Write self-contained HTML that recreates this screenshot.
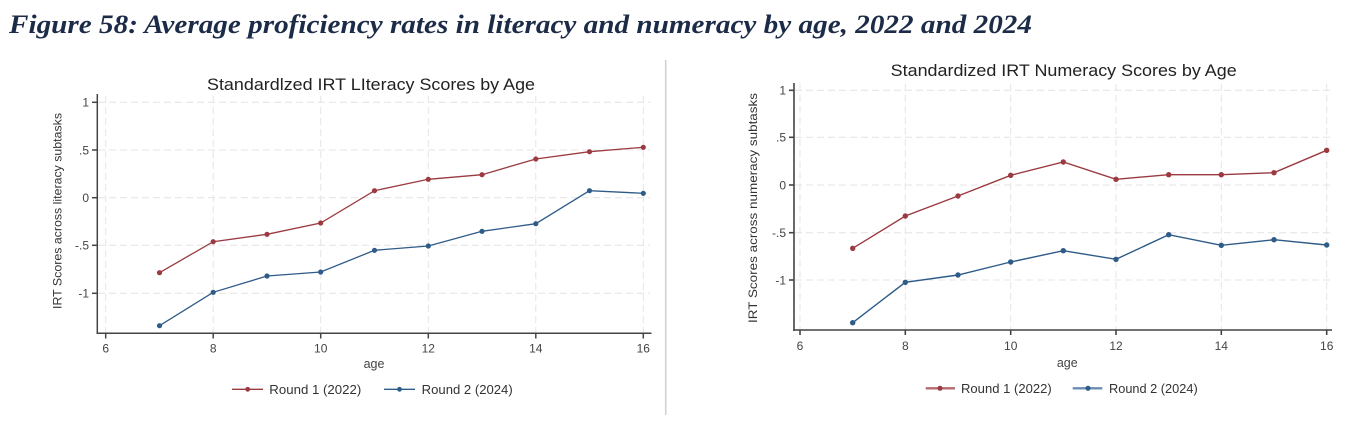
<!DOCTYPE html>
<html><head><meta charset="utf-8"><style>
html,body{margin:0;padding:0;background:#fff;}
svg{display:block;}
text{font-family:"Liberation Sans",Arial,sans-serif;}
</style></head><body>
<svg width="1346" height="422" viewBox="0 0 1346 422" xmlns="http://www.w3.org/2000/svg">
<rect width="1346" height="422" fill="#fff"/>
<text x="9" y="33" style="font-family:'Liberation Serif',serif;font-weight:bold;font-style:italic;" font-size="26" fill="#1c2b47" textLength="1023" lengthAdjust="spacingAndGlyphs">Figure 58: Average proficiency rates in literacy and numeracy by age, 2022 and 2024</text>
<line x1="665.7" y1="60" x2="665.7" y2="415" stroke="#d0d0d0" stroke-width="1.5"/>

<!-- LEFT CHART -->
<g>
<text x="207" y="90" font-size="17" fill="#222" textLength="328" lengthAdjust="spacingAndGlyphs">Standardlzed IRT LIteracy Scores by Age</text>
<g stroke="#e4e4e4" stroke-width="1" stroke-dasharray="7 4" fill="none">
<line x1="98" y1="102.3" x2="650" y2="102.3"/>
<line x1="98" y1="150" x2="650" y2="150"/>
<line x1="98" y1="197.7" x2="650" y2="197.7"/>
<line x1="98" y1="245.3" x2="650" y2="245.3"/>
<line x1="98" y1="293.3" x2="650" y2="293.3"/>
<line x1="105.7" y1="96" x2="105.7" y2="333"/>
<line x1="213.2" y1="96" x2="213.2" y2="333"/>
<line x1="320.7" y1="96" x2="320.7" y2="333"/>
<line x1="428.3" y1="96" x2="428.3" y2="333"/>
<line x1="535.8" y1="96" x2="535.8" y2="333"/>
<line x1="643.3" y1="96" x2="643.3" y2="333"/>
</g>
<g stroke="#444" stroke-width="1.5" fill="none">
<line x1="97.3" y1="94" x2="97.3" y2="334"/>
<line x1="96.5" y1="333.3" x2="651.5" y2="333.3"/>
<line x1="92" y1="102.3" x2="97.3" y2="102.3"/>
<line x1="92" y1="150" x2="97.3" y2="150"/>
<line x1="92" y1="197.7" x2="97.3" y2="197.7"/>
<line x1="92" y1="245.3" x2="97.3" y2="245.3"/>
<line x1="92" y1="293.3" x2="97.3" y2="293.3"/>
<line x1="105.7" y1="333.3" x2="105.7" y2="338.5"/>
<line x1="213.2" y1="333.3" x2="213.2" y2="338.5"/>
<line x1="320.7" y1="333.3" x2="320.7" y2="338.5"/>
<line x1="428.3" y1="333.3" x2="428.3" y2="338.5"/>
<line x1="535.8" y1="333.3" x2="535.8" y2="338.5"/>
<line x1="643.3" y1="333.3" x2="643.3" y2="338.5"/>
</g>
<g font-size="12" fill="#444" text-anchor="end">
<text x="89" y="106.6">1</text>
<text x="89" y="154.3">.5</text>
<text x="89" y="202">0</text>
<text x="89" y="249.6">-.5</text>
<text x="89" y="297.6">-1</text>
</g>
<g font-size="12" fill="#444" text-anchor="middle">
<text x="105.7" y="352.6">6</text>
<text x="213.2" y="352.6">8</text>
<text x="320.7" y="352.6">10</text>
<text x="428.3" y="352.6">12</text>
<text x="535.8" y="352.6">14</text>
<text x="643.3" y="352.6">16</text>
<text x="374" y="368" font-size="12.5">age</text>
</g>
<text transform="translate(61.5,211) rotate(-90)" font-size="12" fill="#333" text-anchor="middle" textLength="196" lengthAdjust="spacingAndGlyphs">IRT Scores across literacy subtasks</text>
<polyline fill="none" stroke="#9b3a40" stroke-width="1.3" points="159.5,272.7 213.2,241.7 267,234.3 320.7,223 374.5,190.7 428.3,179.3 482,174.7 535.8,159 589.5,151.7 643.3,147.3"/>
<g fill="#9b3a40">
<circle cx="159.5" cy="272.7" r="2.6"/><circle cx="213.2" cy="241.7" r="2.6"/><circle cx="267" cy="234.3" r="2.6"/><circle cx="320.7" cy="223" r="2.6"/><circle cx="374.5" cy="190.7" r="2.6"/><circle cx="428.3" cy="179.3" r="2.6"/><circle cx="482" cy="174.7" r="2.6"/><circle cx="535.8" cy="159" r="2.6"/><circle cx="589.5" cy="151.7" r="2.6"/><circle cx="643.3" cy="147.3" r="2.6"/>
</g>
<polyline fill="none" stroke="#2f5b88" stroke-width="1.3" points="159.5,325.7 213.2,292.3 267,276 320.7,272 374.5,250.3 428.3,246 482,231.3 535.8,223.7 589.5,190.7 643.3,193.3"/>
<g fill="#2f5b88">
<circle cx="159.5" cy="325.7" r="2.6"/><circle cx="213.2" cy="292.3" r="2.6"/><circle cx="267" cy="276" r="2.6"/><circle cx="320.7" cy="272" r="2.6"/><circle cx="374.5" cy="250.3" r="2.6"/><circle cx="428.3" cy="246" r="2.6"/><circle cx="482" cy="231.3" r="2.6"/><circle cx="535.8" cy="223.7" r="2.6"/><circle cx="589.5" cy="190.7" r="2.6"/><circle cx="643.3" cy="193.3" r="2.6"/>
</g>
<line x1="232" y1="389.3" x2="263" y2="389.3" stroke="#9b3a40" stroke-width="1.3"/>
<circle cx="247.7" cy="389.3" r="2.4" fill="#9b3a40"/>
<text x="269.3" y="394" font-size="13" fill="#333" textLength="92" lengthAdjust="spacingAndGlyphs">Round 1 (2022)</text>
<line x1="384" y1="389.3" x2="415" y2="389.3" stroke="#2f5b88" stroke-width="1.3"/>
<circle cx="399.5" cy="389.3" r="2.4" fill="#2f5b88"/>
<text x="421.7" y="394" font-size="13" fill="#333" textLength="91" lengthAdjust="spacingAndGlyphs">Round 2 (2024)</text>
</g>

<!-- RIGHT CHART -->
<g>
<text x="890.7" y="76" font-size="17" fill="#222" textLength="346" lengthAdjust="spacingAndGlyphs">Standardized IRT Numeracy Scores by Age</text>
<g stroke="#e4e4e4" stroke-width="1" stroke-dasharray="7 4" fill="none">
<line x1="795" y1="90.3" x2="1331" y2="90.3"/>
<line x1="795" y1="137.3" x2="1331" y2="137.3"/>
<line x1="795" y1="185" x2="1331" y2="185"/>
<line x1="795" y1="232.7" x2="1331" y2="232.7"/>
<line x1="795" y1="280" x2="1331" y2="280"/>
<line x1="800" y1="84" x2="800" y2="330"/>
<line x1="905.3" y1="84" x2="905.3" y2="330"/>
<line x1="1010.7" y1="84" x2="1010.7" y2="330"/>
<line x1="1116" y1="84" x2="1116" y2="330"/>
<line x1="1221.3" y1="84" x2="1221.3" y2="330"/>
<line x1="1326.7" y1="84" x2="1326.7" y2="330"/>
</g>
<g stroke="#444" stroke-width="1.6" fill="none">
<line x1="794" y1="83" x2="794" y2="331"/>
<line x1="793.2" y1="330" x2="1332" y2="330"/>
<line x1="789" y1="90.3" x2="794" y2="90.3"/>
<line x1="789" y1="137.3" x2="794" y2="137.3"/>
<line x1="789" y1="185" x2="794" y2="185"/>
<line x1="789" y1="232.7" x2="794" y2="232.7"/>
<line x1="789" y1="280" x2="794" y2="280"/>
<line x1="800" y1="330" x2="800" y2="335"/>
<line x1="905.3" y1="330" x2="905.3" y2="335"/>
<line x1="1010.7" y1="330" x2="1010.7" y2="335"/>
<line x1="1116" y1="330" x2="1116" y2="335"/>
<line x1="1221.3" y1="330" x2="1221.3" y2="335"/>
<line x1="1326.7" y1="330" x2="1326.7" y2="335"/>
</g>
<g font-size="12" fill="#444" text-anchor="end">
<text x="786" y="94.6">1</text>
<text x="786" y="141.6">.5</text>
<text x="786" y="189.3">0</text>
<text x="786" y="237">-.5</text>
<text x="786" y="284.3">-1</text>
</g>
<g font-size="12" fill="#444" text-anchor="middle">
<text x="800" y="350">6</text>
<text x="905.3" y="350">8</text>
<text x="1010.7" y="350">10</text>
<text x="1116" y="350">12</text>
<text x="1221.3" y="350">14</text>
<text x="1326.7" y="350">16</text>
<text x="1067.3" y="367" font-size="12.5">age</text>
</g>
<text transform="translate(757,208) rotate(-90)" font-size="12" fill="#333" text-anchor="middle" textLength="230" lengthAdjust="spacingAndGlyphs">IRT Scores across numeracy subtasks</text>
<polyline fill="none" stroke="#9b3a40" stroke-width="1.4" points="852.7,248.3 905.3,216 958,196 1010.7,175.3 1063.3,162 1116,179.3 1168.7,174.7 1221.3,174.7 1274,172.7 1326.7,150.3"/>
<g fill="#9b3a40">
<circle cx="852.7" cy="248.3" r="2.7"/><circle cx="905.3" cy="216" r="2.7"/><circle cx="958" cy="196" r="2.7"/><circle cx="1010.7" cy="175.3" r="2.7"/><circle cx="1063.3" cy="162" r="2.7"/><circle cx="1116" cy="179.3" r="2.7"/><circle cx="1168.7" cy="174.7" r="2.7"/><circle cx="1221.3" cy="174.7" r="2.7"/><circle cx="1274" cy="172.7" r="2.7"/><circle cx="1326.7" cy="150.3" r="2.7"/>
</g>
<polyline fill="none" stroke="#2f5b88" stroke-width="1.4" points="852.7,322.7 905.3,282.3 958,275 1010.7,262 1063.3,250.7 1116,259.3 1168.7,234.7 1221.3,245.3 1274,239.7 1326.7,245"/>
<g fill="#2f5b88">
<circle cx="852.7" cy="322.7" r="2.7"/><circle cx="905.3" cy="282.3" r="2.7"/><circle cx="958" cy="275" r="2.7"/><circle cx="1010.7" cy="262" r="2.7"/><circle cx="1063.3" cy="250.7" r="2.7"/><circle cx="1116" cy="259.3" r="2.7"/><circle cx="1168.7" cy="234.7" r="2.7"/><circle cx="1221.3" cy="245.3" r="2.7"/><circle cx="1274" cy="239.7" r="2.7"/><circle cx="1326.7" cy="245" r="2.7"/>
</g>
<line x1="925.7" y1="388.3" x2="955" y2="388.3" stroke="#b56a6f" stroke-width="2.4"/>
<circle cx="940" cy="388.3" r="2.5" fill="#9b3a40"/>
<text x="961" y="393" font-size="13" fill="#333" textLength="90.7" lengthAdjust="spacingAndGlyphs">Round 1 (2022)</text>
<line x1="1072.7" y1="388.3" x2="1102.3" y2="388.3" stroke="#6a8cb0" stroke-width="2.4"/>
<circle cx="1088" cy="388.3" r="2.5" fill="#2f5b88"/>
<text x="1109" y="393" font-size="13" fill="#333" textLength="88.7" lengthAdjust="spacingAndGlyphs">Round 2 (2024)</text>
</g>
</svg>
</body></html>
